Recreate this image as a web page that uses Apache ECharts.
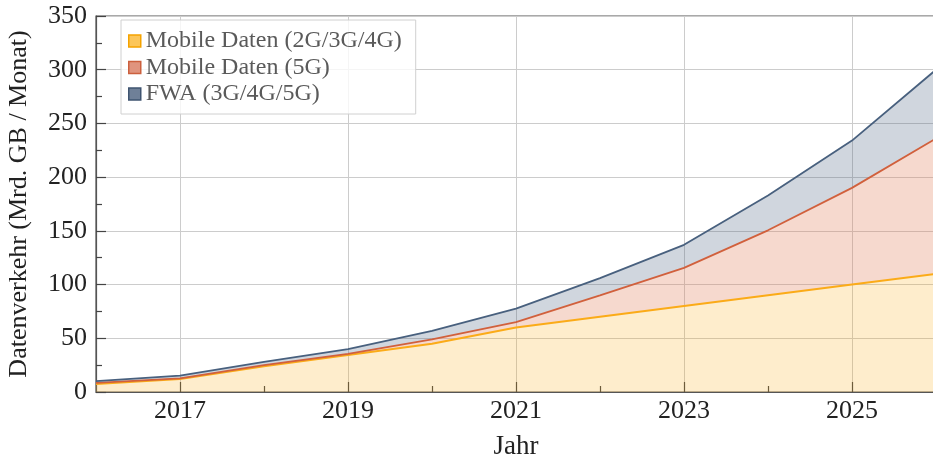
<!DOCTYPE html>
<html>
<head>
<meta charset="utf-8">
<script src="https://cdn.jsdelivr.net/npm/echarts@6/dist/echarts.min.js"></script>
<style>
html,body{margin:0;padding:0;background:#fff;}
#c{width:933px;height:458px;}
</style>
</head>
<body>
<div id="c"></div>
<script>
var years = ['2016','2017','2018','2019','2020','2021','2022','2023','2024','2025','2026'];
var mobile4G = [7.5, 12, 24, 34.5, 45, 60, 70, 80, 90, 100, 110];
var mobile5G = [1, 0.7, 1, 1, 4, 5, 20, 35.5, 60.5, 90, 126];
var fwa = [1.7, 2.5, 3, 4.5, 8, 12.6, 16, 21.5, 32.5, 44, 64];
var seriesNames = ['Mobile Daten (2G/3G/4G)', 'Mobile Daten (5G)', 'FWA (3G/4G/5G)'];
var yTicks = [0, 50, 100, 150, 200, 250, 300, 350];

var FONT = 'Liberation Serif';
var chart = echarts.init(document.getElementById('c'), null, {renderer: 'canvas'});

function oddIdx(i){ return i % 2 === 1; }
function evenIdx(i){ return i % 2 === 0 && i > 0 && i < years.length - 1; }

var option = {
  animation: false,
  backgroundColor: '#fff',
  grid: {
    left: 96, width: 840, top: 16, height: 376,
    outerBoundsMode: 'none', containLabel: false,
    show: true, borderColor: '#555', borderWidth: 1.2, backgroundColor: 'transparent'
  },
  legend: {
    orient: 'vertical',
    left: 121, top: 20,
    padding: [9, 14, 8, 7],
    itemWidth: 12, itemHeight: 12, itemGap: 2.5,
    icon: 'rect',
    borderColor: '#d0d0d0', borderWidth: 1,
    backgroundColor: 'rgba(255,255,255,0.8)',
    textStyle: { fontFamily: FONT, fontSize: 24, color: '#5a5a5a', lineHeight: 23 },
    selectedMode: false,
    data: [
      { name: seriesNames[0], itemStyle: { color: '#fcc65a', borderColor: '#f5a300', borderWidth: 1.5 } },
      { name: seriesNames[1], itemStyle: { color: '#e0947e', borderColor: '#cc603e', borderWidth: 1.5 } },
      { name: seriesNames[2], itemStyle: { color: '#6f8098', borderColor: '#3f5470', borderWidth: 1.5 } }
    ]
  },
  xAxis: [
    {
      type: 'category', data: years, boundaryGap: false,
      axisLine: { show: true, lineStyle: { color: '#555', width: 1.2 } },
      axisTick: { show: true, inside: true, length: 10, interval: oddIdx, lineStyle: { color: '#444', width: 1.2 } },
      axisLabel: { interval: oddIdx, fontFamily: FONT, fontSize: 26, color: '#222', margin: 6 },
      splitLine: { show: true, interval: oddIdx, lineStyle: { color: '#cccccc', width: 1 } },
      name: 'Jahr', nameLocation: 'middle', nameGap: 41,
      nameTextStyle: { fontFamily: FONT, fontSize: 27, color: '#222' }
    },
    {
      type: 'category', data: years, boundaryGap: false, position: 'bottom',
      axisLine: { show: false },
      axisTick: { show: true, inside: true, length: 6, interval: evenIdx, lineStyle: { color: '#444', width: 1.2 } },
      axisLabel: { show: false },
      splitLine: { show: false }
    }
  ],
  yAxis: {
    type: 'value', min: yTicks[0], max: yTicks[yTicks.length - 1], interval: 50,
    axisLine: { show: true, lineStyle: { color: '#555', width: 1.2 } },
    axisTick: { show: true, inside: true, length: 10, lineStyle: { color: '#444', width: 1.2 } },
    minorTick: { show: true, splitNumber: 2, length: 6, lineStyle: { color: '#444', width: 1.2 } },
    axisLabel: { fontFamily: FONT, fontSize: 26, color: '#222', margin: 9 },
    splitLine: { show: true, lineStyle: { color: '#cccccc', width: 1 } },
    name: 'Datenverkehr (Mrd. GB / Monat)', nameLocation: 'middle', nameGap: 64,
    nameTextStyle: { fontFamily: FONT, fontSize: 26, color: '#222' }
  },
  series: [
    {
      name: seriesNames[0], type: 'line', stack: 'total', data: mobile4G,
      symbol: 'none', lineStyle: { color: '#fbab18', width: 2 },
      itemStyle: { color: '#fbab18' },
      areaStyle: { color: '#fbab18', opacity: 0.22 }, emphasis: { disabled: true }
    },
    {
      name: seriesNames[1], type: 'line', stack: 'total', data: mobile5G,
      symbol: 'none', lineStyle: { color: '#d1603c', width: 1.8 },
      itemStyle: { color: '#d1603c' },
      areaStyle: { color: '#e0805c', opacity: 0.3 }, emphasis: { disabled: true }
    },
    {
      name: seriesNames[2], type: 'line', stack: 'total', data: fwa,
      symbol: 'none', lineStyle: { color: '#48607e', width: 1.8 },
      itemStyle: { color: '#48607e' },
      areaStyle: { color: '#48607e', opacity: 0.26 }, emphasis: { disabled: true }
    }
  ]
};
chart.setOption(option);
</script>
</body>
</html>
